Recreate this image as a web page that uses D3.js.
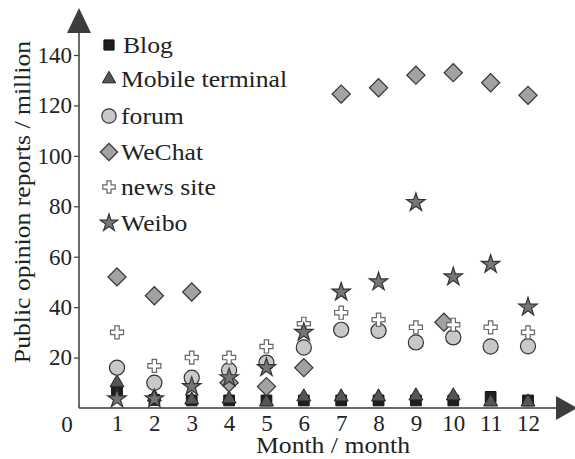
<!DOCTYPE html>
<html lang="en">
<head>
<meta charset="utf-8">
<title>Public opinion reports</title>
<script src="https://cdnjs.cloudflare.com/ajax/libs/d3/7.8.5/d3.min.js"></script>
<style>
  body { margin: 0; background: #fff; }
  svg { display: block; font-family: "Liberation Serif", "Times New Roman", serif; }
</style>
</head>
<body>
<div id="chart"></div>
<script>
// data
var months = [1, 2, 3, 4, 5, 6, 7, 8, 9, 10, 11, 12];
var blog    = [6.4, 3.2, 3, 3, 3, 3, 3, 3, 3, 3, 4.4, 3];
var mobile  = [10, 4.4, 3.2, 3.6, 2.4, 4.4, 4.4, 4.4, 4.8, 4.8, 2.4, 2.4];
var forum   = [16, 10, 12, 15, 18, 24, 31, 30.6, 26, 28, 24.4, 24.5];
var wechat  = [52, 44.5, 46, 10, 8.5, 16, 124.5, 127, 132, 133, 129, 124];
var newsSite = [30, 16.7, 20, 20, 24.4, 33.4, 37.8, 35, 32, 33, 32, 30];
var weibo   = [3.6, 3.6, 8.5, 12, 16, 30, 46, 50, 81.5, 52, 57, 40];
// one stray WeChat marker sits just left of month 10
var wechatExtraMonth = [9.75];
var wechatExtraValue = [34];
var yTicks = [20, 40, 60, 80, 100, 120, 140];

var W = 575, H = 459;
var svg = d3.select("#chart").append("svg").attr("width", W).attr("height", H);

var x = d3.scaleLinear().domain([1, 12]).range([117, 528]);
var y = d3.scaleLinear().domain([0, 140]).range([408, 55]);
var x0 = 79, y0 = 408;
var axisColor = "#3a3a3a";
var stretch = 1.07; // the source font runs a little wider than Times

// axes lines + arrows
svg.append("line").attr("x1", x0).attr("y1", y0).attr("x2", x0).attr("y2", 20)
  .attr("stroke", axisColor).attr("stroke-width", 1.5);
svg.append("line").attr("x1", x0).attr("y1", y0).attr("x2", 565).attr("y2", y0)
  .attr("stroke", axisColor).attr("stroke-width", 1.5);
svg.append("path").attr("d", "M" + x0 + ",8L" + (x0 - 12) + ",33L" + (x0 + 12) + ",33Z")
  .attr("fill", "#3d3d3d");
svg.append("path").attr("d", "M577," + y0 + "L556," + (y0 - 12) + "L556," + (y0 + 12) + "Z")
  .attr("fill", "#3d3d3d");

// y ticks
var yAxis = svg.append("g").attr("transform", "translate(" + x0 + ",0)")
  .call(d3.axisLeft(y).tickValues(yTicks).tickSize(5).tickPadding(2));
yAxis.select(".domain").remove();
yAxis.attr("font-family", null);
yAxis.selectAll("line").attr("stroke", axisColor).attr("stroke-width", 1.2);
yAxis.selectAll("text").attr("font-size", 23).attr("fill", "#222");

// x ticks (labels only)
var xAxis = svg.append("g").attr("transform", "translate(0," + y0 + ")")
  .call(d3.axisBottom(x).tickValues(months).tickSize(0).tickPadding(7));
xAxis.select(".domain").remove();
xAxis.attr("font-family", null);
xAxis.selectAll("text").attr("font-size", 23).attr("fill", "#222");

svg.append("text").attr("x", 67).attr("y", 432).attr("text-anchor", "middle")
  .attr("font-size", 23).attr("fill", "#222").text("0");

// axis titles
svg.append("g").attr("transform", "translate(333,453) scale(" + stretch + ",1)")
  .append("text").attr("text-anchor", "middle")
  .attr("font-size", 24).attr("fill", "#222").text("Month / month");
svg.append("g").attr("transform", "translate(30,202) rotate(-90) scale(" + stretch + ",1)")
  .append("text").attr("text-anchor", "middle").attr("font-size", 24).attr("fill", "#222")
  .text("Public opinion reports / million");

// series styles
var series = [
  { name: "Blog", values: blog, type: d3.symbolSquare, size: 115, rot: 0, fill: "#1e1e1e", stroke: "#111", sw: 1 },
  { name: "Mobile terminal", values: mobile, type: d3.symbolTriangle, size: 85, rot: 0, fill: "#555", stroke: "#222", sw: 1 },
  { name: "forum", values: forum, type: d3.symbolCircle, size: 180, rot: 0, fill: "#c8c8cc", stroke: "#333", sw: 1.2 },
  { name: "WeChat", values: wechat, type: d3.symbolSquare, size: 165, rot: 45, fill: "#a2a2a4", stroke: "#333", sw: 1.2 },
  { name: "news site", values: newsSite, type: d3.symbolCross, size: 95, rot: 0, fill: "#fff", stroke: "#666", sw: 1.2 },
  { name: "Weibo", values: weibo, type: d3.symbolStar, size: 105, rot: 0, fill: "#767678", stroke: "#333", sw: 1.2 }
];

series.forEach(function(s) {
  var pts = months.map(function(m, i) { return { m: m, v: s.values[i] }; });
  if (s.name === "WeChat") {
    wechatExtraMonth.forEach(function(m, i) { pts.push({ m: m, v: wechatExtraValue[i] }); });
  }
  svg.append("g").selectAll("path").data(pts).enter().append("path")
    .attr("d", d3.symbol().type(s.type).size(s.size))
    .attr("transform", function(d) {
      return "translate(" + x(d.m) + "," + y(d.v) + ") rotate(" + s.rot + ")";
    })
    .attr("fill", s.fill).attr("stroke", s.stroke).attr("stroke-width", s.sw);
});

// legend
var legendY = [45, 79, 116, 152, 187, 223];
var legend = svg.append("g").selectAll("g").data(series).enter().append("g")
  .attr("transform", function(d, i) { return "translate(109," + legendY[i] + ")"; });
legend.append("path")
  .attr("d", function(d) { return d3.symbol().type(d.type).size(d.size * 0.9)(); })
  .attr("transform", function(d) { return "rotate(" + d.rot + ")"; })
  .attr("fill", function(d) { return d.fill; })
  .attr("stroke", function(d) { return d.stroke; })
  .attr("stroke-width", function(d) { return d.sw; });
legend.append("g")
  .attr("transform", function(d) { return "translate(" + (d.name === "Blog" ? 14 : 12) + ",8) scale(" + stretch + ",1)"; })
  .append("text").attr("font-size", 24).attr("fill", "#222")
  .text(function(d) { return d.name; });
</script>
</body>
</html>
